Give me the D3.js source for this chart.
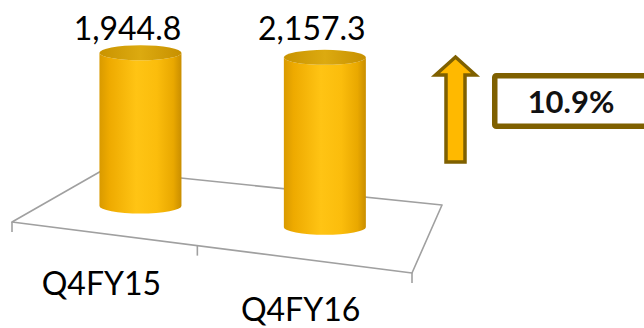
<!DOCTYPE html>
<html>
<head>
<meta charset="utf-8">
<script src="https://cdn.jsdelivr.net/npm/d3@7"></script>
<style>
  html, body { margin: 0; padding: 0; background: #fff; }
  svg { display: block; }
  text { font-family: Lato, "Open Sans", sans-serif; }
</style>
</head>
<body>
<svg id="chart" width="644" height="328"></svg>
<script>
// Quarterly figures
const categories = ["Q4FY15", "Q4FY16"];
const values = [1944.8, 2157.3];
const growthLabel = ["10.9%"];

const svg = d3.select("#chart");

// Floor corners (front-left, front-right, back-right, back-left) of the 3D plot
const floor = [[12, 222], [412, 273], [442, 205], [103, 170]];

// Perspective mapping from the unit square (u across, v depth) onto the floor quad
function homography(q) {
  const [[x0, y0], [x1, y1], [x2, y2], [x3, y3]] = q;
  const dx1 = x1 - x2, dx2 = x3 - x2, dx3 = x0 - x1 + x2 - x3;
  const dy1 = y1 - y2, dy2 = y3 - y2, dy3 = y0 - y1 + y2 - y3;
  const det = dx1 * dy2 - dx2 * dy1;
  const g = (dx3 * dy2 - dx2 * dy3) / det;
  const h = (dx1 * dy3 - dx3 * dy1) / det;
  const a = x1 - x0 + g * x1, b = x3 - x0 + h * x3, c = x0;
  const d = y1 - y0 + g * y1, e = y3 - y0 + h * y3, f = y0;
  return (u, v) => {
    const w = g * u + h * v + 1;
    return [(a * u + b * v + c) / w, (d * u + e * v + f) / w];
  };
}
const proj = homography(floor);

// Category positions along the floor's width
const xBand = d3.scaleBand().domain(categories).range([0, 1]);
const uCenter = c => xBand(c) + xBand.bandwidth() / 2;
const depth = 0.45;

// Bar height in pixels from value
const hScale = d3.scaleLinear().domain([0, 2000]).range([0, 157.5]);

// ---- Floor ----
svg.append("path")
  .attr("d", d3.line()(floor) + "Z")
  .attr("fill", "#fff")
  .attr("stroke", "#a0a0a0")
  .attr("stroke-width", 1.6)
  .attr("stroke-linejoin", "round");

// Category tick marks along the front edge
const tickU = [0, 0.5, 1];
svg.append("g").selectAll("line")
  .data(tickU)
  .join("line")
  .attr("x1", u => proj(u, 0)[0])
  .attr("y1", u => proj(u, 0)[1])
  .attr("x2", u => proj(u, 0)[0])
  .attr("y2", u => proj(u, 0)[1] + 10)
  .attr("stroke", "#a0a0a0")
  .attr("stroke-width", 1.6);

// ---- Cylinder gradients ----
const defs = svg.append("defs");
const bodyGrad = defs.append("linearGradient").attr("id", "cylBody")
  .attr("x1", "0%").attr("x2", "100%").attr("y1", "0%").attr("y2", "0%");
[[0, "#d99a00"], [0.12, "#eeaa00"], [0.45, "#ffc414"], [0.7, "#fbbd0c"], [0.9, "#e9a800"], [1, "#c98e00"]]
  .forEach(([o, c]) => bodyGrad.append("stop").attr("offset", o).attr("stop-color", c));
const capGrad = defs.append("linearGradient").attr("id", "cylTop")
  .attr("x1", "0%").attr("x2", "100%").attr("y1", "0%").attr("y2", "0%");
[[0, "#c99300"], [0.5, "#dcaa10"], [1, "#c79000"]]
  .forEach(([o, c]) => capGrad.append("stop").attr("offset", o).attr("stop-color", c));

// ---- Bars (cylinders) ----
const rx = 41, ry = 7.5;
const bars = categories.map((c, i) => {
  const [cx, cy] = proj(uCenter(c), depth);
  return { c, v: values[i], cx, cy, h: hScale(values[i]) };
});

const barG = svg.append("g").selectAll("g").data(bars).join("g");
barG.append("path")
  .attr("d", d => {
    const l = d.cx - rx, r = d.cx + rx, tY = d.cy - d.h;
    return `M${l},${tY} L${l},${d.cy} A${rx},${ry} 0 0 0 ${r},${d.cy} L${r},${tY} A${rx},${ry} 0 0 1 ${l},${tY} Z`;
  })
  .attr("fill", "url(#cylBody)");
barG.append("ellipse")
  .attr("cx", d => d.cx)
  .attr("cy", d => d.cy - d.h)
  .attr("rx", rx)
  .attr("ry", ry)
  .attr("fill", "url(#cylTop)");

// Value labels
svg.append("g").selectAll("text")
  .data(bars)
  .join("text")
  .attr("x", d => d.cx - 13)
  .attr("y", 40)
  .attr("text-anchor", "middle")
  .attr("font-size", 32)
  .attr("fill", "#000")
  .text(d => d3.format(",.1f")(d.v));

// Category labels under the front edge
svg.append("g").selectAll("text")
  .data(categories)
  .join("text")
  .attr("x", c => proj(uCenter(c), 0)[0])
  .attr("y", c => proj(uCenter(c), 0)[1] + 62)
  .attr("text-anchor", "middle")
  .attr("font-size", 32)
  .attr("fill", "#000")
  .text(c => c);

// ---- Growth arrow ----
const ax = 455.5, tipY = 57, headY = 75, baseY = 162, headHalf = 20, shaftHalf = 9.5;
const arrowPts = [
  [ax, tipY], [ax + headHalf, headY], [ax + shaftHalf, headY], [ax + shaftHalf, baseY],
  [ax - shaftHalf, baseY], [ax - shaftHalf, headY], [ax - headHalf, headY]
];
svg.append("path")
  .attr("d", d3.line()(arrowPts) + "Z")
  .attr("fill", "#ffb900")
  .attr("stroke", "#7f6000")
  .attr("stroke-width", 3.5)
  .attr("stroke-linejoin", "miter");

// ---- Growth box ----
svg.append("rect")
  .attr("x", 494.75)
  .attr("y", 75.75)
  .attr("width", 200)
  .attr("height", 50.5)
  .attr("rx", 1.5)
  .attr("fill", "#fff")
  .attr("stroke", "#7f6000")
  .attr("stroke-width", 5.5);

svg.append("text")
  .attr("x", 571)
  .attr("y", 113)
  .attr("text-anchor", "middle")
  .attr("font-size", 31)
  .attr("font-weight", "bold")
  .attr("fill", "#111")
  .text(growthLabel[0]);
</script>
</body>
</html>
